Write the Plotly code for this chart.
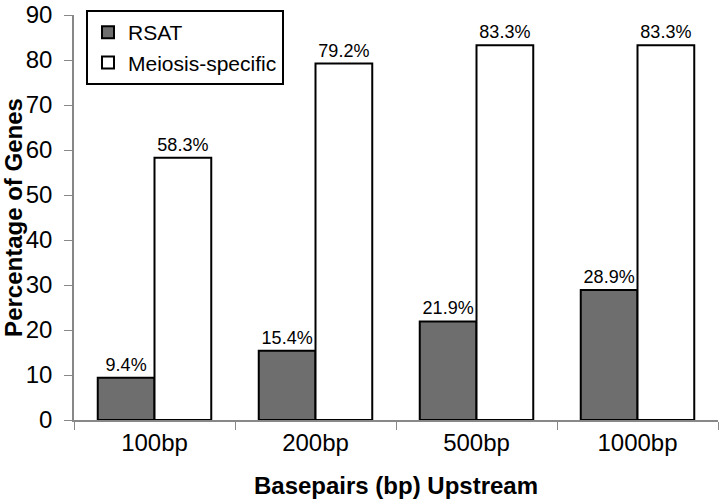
import plotly.graph_objects as go

categories = ["100bp", "200bp", "500bp", "1000bp"]
rsat = [9.4, 15.4, 21.9, 28.9]
meiosis = [58.3, 79.2, 83.3, 83.3]
rsat_labels = ["9.4%", "15.4%", "21.9%", "28.9%"]
meiosis_labels = ["58.3%", "79.2%", "83.3%", "83.3%"]

font = "Liberation Sans, Arial, sans-serif"

fig = go.Figure()
fig.add_trace(go.Bar(x=categories, y=rsat, name="RSAT", text=rsat_labels,
                     textposition="outside", cliponaxis=False,
                     textfont=dict(size=18, color="black", family=font),
                     marker=dict(color="#6e6e6e", line=dict(color="black", width=2))))
fig.add_trace(go.Bar(x=categories, y=meiosis, name="Meiosis-specific", text=meiosis_labels,
                     textposition="outside", cliponaxis=False,
                     textfont=dict(size=18, color="black", family=font),
                     marker=dict(color="white", line=dict(color="black", width=2))))

fig.update_layout(
    width=720, height=500,
    margin=dict(l=74, r=2, t=15, b=80),
    plot_bgcolor="white", paper_bgcolor="white",
    barmode="group", bargap=0.295, bargroupgap=0,
    uniformtext=dict(minsize=18, mode="show"),
    font=dict(family=font, color="black"),
    showlegend=True,
    legend=dict(x=0.0186, y=1.012, xanchor="left", yanchor="top",
                bordercolor="black", borderwidth=2, bgcolor="white",
                font=dict(size=21, family=font), tracegroupgap=0),
    xaxis=dict(showline=True, linecolor="#888888", linewidth=1.5, automargin=False,
               ticks="outside", tickson="boundaries", ticklen=8, tickcolor="#888888",
               tickfont=dict(size=24, family=font),
               title=dict(text="<b>Basepairs (bp) Upstream</b>", font=dict(size=24, family=font), standoff=23)),
    yaxis=dict(range=[0, 90], dtick=10, showline=True, linecolor="#888888", linewidth=1.5,
               automargin=False, ticklabeloverflow="allow", ticklabelstandoff=7,
               ticks="outside", ticklen=8, tickcolor="#888888", showgrid=False, zeroline=False,
               tickfont=dict(size=24, family=font),
               title=dict(text="<b>Percentage of Genes</b>", font=dict(size=24, family=font), standoff=9)),
)

fig.write_html("out.html", config={"displayModeBar": False},
               post_script="document.body.style.margin='0';")
